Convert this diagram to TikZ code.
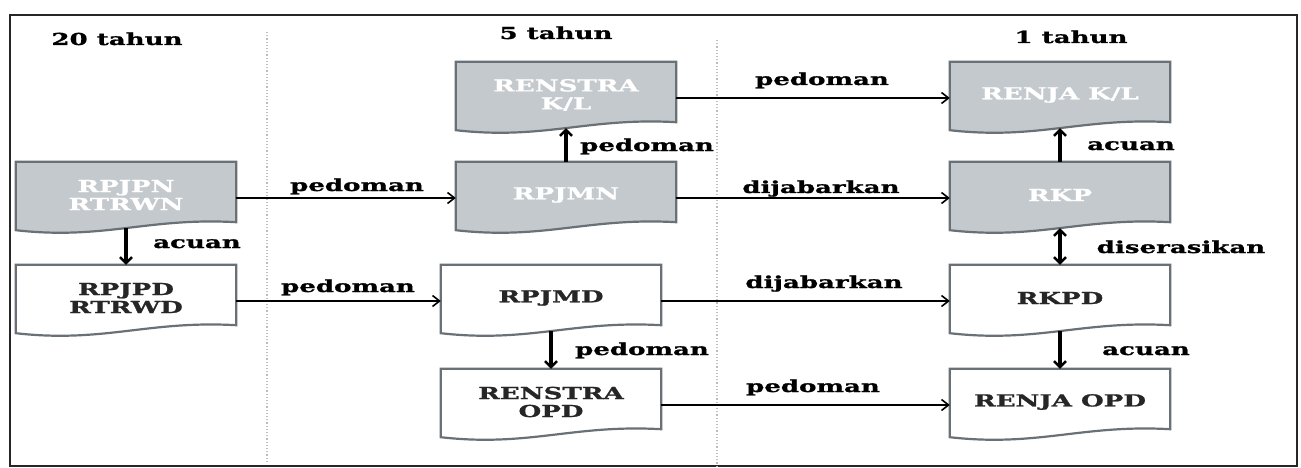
\documentclass[tikz,border=0pt]{standalone}
\usepackage{fontspec}
\newfontfamily\diafont[FakeStretch=1.58,FakeBold=1.2]{DejaVu Serif}
\usetikzlibrary{arrows.meta,calc,backgrounds}
\definecolor{boxgray}{RGB}{196,201,205}
\definecolor{edgegray}{RGB}{105,113,118}
\definecolor{sepgray}{RGB}{190,190,190}
\newcommand\docshape[2]{%
  \path[#2] let \p1=(#1.north west), \p2=(#1.south east), \n1={\x2-\x1} in
    (\x1,\y1) -- (\x2,\y1) -- (\x2,\y2+6pt)
    .. controls (\x2-0.4*\n1,\y2+11pt) and (\x1+0.4*\n1,\y2-12pt) .. (\x1,\y2-2pt) -- cycle;}
\tikzset{
  txt/.style={font=\diafont\bfseries\fontsize{16.5}{18}\selectfont},
  docbox/.style={txt, minimum width=220pt, minimum height=66pt, inner sep=0pt, align=center},
  graybox/.style={docbox, text=white},
  whitebox/.style={docbox, text=black!85},
  grayfill/.style={fill=boxgray, draw=edgegray, line width=2.2pt},
  whitefill/.style={fill=white, draw=edgegray, line width=2.2pt},
  lbl/.style={txt, inner sep=0pt, anchor=base, text=black},
  harr/.style={line width=1.8pt, -{Straight Barb[length=7pt,width=11pt,line width=1.6pt]}},
  varr/.style={line width=3.5pt, -{Straight Barb[length=6pt,width=12pt,line width=2.5pt]}},
  vbarr/.style={line width=3.5pt, {Straight Barb[length=6pt,width=12pt,line width=2.5pt]}-{Straight Barb[length=6pt,width=12pt,line width=2.5pt]}}
}
\begin{document}
\begin{tikzpicture}[x=1pt,y=-1pt]
\path[use as bounding box] (0,0) rectangle (1301,468);

% column headings
\node[lbl] (h20) at (117,45) {20 tahun};
\node[lbl] (h5) at (556,39) {5 tahun};
\node[lbl] (h1) at (1071,43) {1 tahun};

% boxes
\node[graybox] (rpjpn) at (126,195) {RPJPN\\RTRWN};
\node[whitebox] (rpjpd) at (126,298) {RPJPD\\RTRWD};
\node[graybox] (renstrakl) at (566,95) {RENSTRA\\K/L};
\node[graybox] (rpjmn) at (566,195) {RPJMN};
\node[whitebox] (rpjmd) at (551,298) {RPJMD};
\node[whitebox] (renstraopd) at (551,402) {RENSTRA\\OPD};
\node[graybox] (renjakl) at (1060,95) {RENJA K/L};
\node[graybox] (rkp) at (1060,195) {RKP};
\node[whitebox] (rkpd) at (1060,298) {RKPD};
\node[whitebox] (renjaopd) at (1060,402) {RENJA OPD};

\begin{scope}[on background layer]
\fill[white] (0,0) rectangle (1301,468);
\draw[line width=1.8pt, black!85] (10,15) rectangle (1297,466);
\draw[dotted, line width=1.2pt, sepgray] (267,32) -- (267,462);
\draw[dotted, line width=1.2pt, sepgray] (717,40) -- (717,466);
\docshape{rpjpn}{grayfill}
\docshape{rpjpd}{whitefill}
\docshape{renstrakl}{grayfill}
\docshape{rpjmn}{grayfill}
\docshape{rpjmd}{whitefill}
\docshape{renstraopd}{whitefill}
\docshape{renjakl}{grayfill}
\docshape{rkp}{grayfill}
\docshape{rkpd}{whitefill}
\docshape{renjaopd}{whitefill}
\end{scope}

% horizontal connectors
\draw[harr] ([yshift=-3pt]rpjpn.east) -- ([yshift=-3pt]rpjmn.west);
\draw[harr] ([yshift=-3pt]rpjpd.east) -- ([yshift=-3pt]rpjmd.west);
\draw[harr] ([yshift=-3pt]renstrakl.east) -- ([yshift=-3pt]renjakl.west);
\draw[harr] ([yshift=-3pt]rpjmn.east) -- ([yshift=-3pt]rkp.west);
\draw[harr] ([yshift=-3pt]rpjmd.east) -- ([yshift=-3pt]rkpd.west);
\draw[harr] ([yshift=-3pt]renstraopd.east) -- ([yshift=-3pt]renjaopd.west);

% vertical connectors
\draw[varr] (rpjpn.south) -- (rpjpd.north);
\draw[varr] (rpjmn.north) -- (renstrakl.south);
\draw[varr] (rpjmd.south) -- (renstraopd.north);
\draw[varr] (rkp.north) -- (renjakl.south);
\draw[vbarr] (rkp.south) -- (rkpd.north);
\draw[varr] (rkpd.south) -- (renjaopd.north);

% connector labels
\node[lbl] (l1) at (357,191) {pedoman};
\node[lbl] (l2) at (348,292) {pedoman};
\node[lbl] (l3) at (822,85) {pedoman};
\node[lbl] (l4) at (821,193) {dijabarkan};
\node[lbl] (l5) at (824,288) {dijabarkan};
\node[lbl] (l6) at (813,392) {pedoman};
\node[lbl] (l7) at (647,151) {pedoman};
\node[lbl] (l8) at (197,248) {acuan};
\node[lbl] (l9) at (642,355) {pedoman};
\node[lbl] (l10) at (1131,150) {acuan};
\node[lbl] (l11) at (1181,253) {diserasikan};
\node[lbl] (l12) at (1146,355) {acuan};
\end{tikzpicture}
\end{document}
